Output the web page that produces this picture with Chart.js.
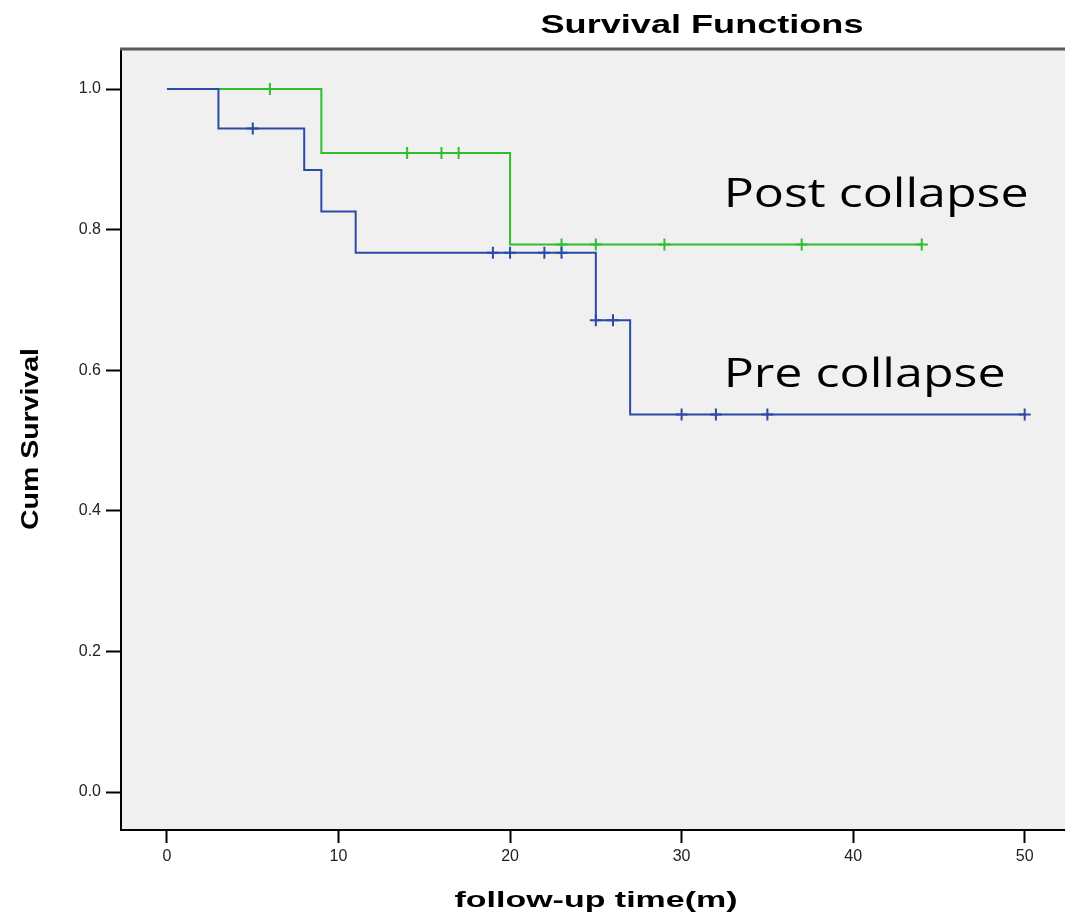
<!DOCTYPE html>
<html>
<head>
<meta charset="utf-8">
<script src="https://cdn.jsdelivr.net/npm/chart.js@4.4.1/dist/chart.umd.min.js"></script>
<style>
  html, body { margin: 0; padding: 0; background: #ffffff; overflow: hidden; }
  #wrap { width: 1065px; height: 919px; position: relative; }
  #km { display: block; }
</style>
</head>
<body>
<div id="wrap"><canvas id="km" width="1065" height="919"></canvas></div>
<script>
// Kaplan–Meier estimates: event times (months) and the survival after each step
const postTimes = [0, 9, 20, 44];
const postSurv  = [1.0, 0.909, 0.779, 0.779];
const postCensorTimes = [6, 14, 16, 17, 23, 25, 29, 37, 44];
const postCensorSurv  = [1.0, 0.909, 0.909, 0.909, 0.779, 0.779, 0.779, 0.779, 0.779];

const preTimes = [0, 3, 8, 9, 11, 25, 27, 50];
const preSurv  = [1.0, 0.944, 0.885, 0.826, 0.767, 0.671, 0.537, 0.537];
const preCensorTimes = [5, 19, 20, 22, 23, 25, 26, 30, 32, 35, 50];
const preCensorSurv  = [0.944, 0.767, 0.767, 0.767, 0.767, 0.671, 0.671, 0.537, 0.537, 0.537, 0.537];

const groupNames = ['Post collapse', 'Pre collapse'];
const xTicks = [0, 10, 20, 30, 40, 50];
const yTicks = [0.0, 0.2, 0.4, 0.6, 0.8, 1.0];

const GREEN = '#30bd30';
const BLUE  = '#2b4aa6';

const toPoints = (xs, ys) => xs.map((x, i) => ({ x: x, y: ys[i] }));

// Text drawn with a horizontal stretch so that it spans a given width
function stretchedText(ctx, text, x, y, font, width, align, rotate) {
  ctx.save();
  ctx.font = font;
  const natural = ctx.measureText(text).width;
  const sx = width / natural;
  ctx.translate(x, y);
  if (rotate) ctx.rotate(rotate);
  ctx.scale(sx, 1);
  ctx.textAlign = align;
  ctx.textBaseline = 'alphabetic';
  ctx.fillStyle = '#000';
  ctx.fillText(text, 0, 0);
  ctx.restore();
}

const framePlugin = {
  id: 'frame',
  beforeDraw(chart) {
    const { ctx, chartArea: a } = chart;
    ctx.save();
    ctx.fillStyle = '#f0f0f0';
    ctx.fillRect(a.left, a.top, a.right - a.left, a.bottom - a.top);
    ctx.restore();
  },
  afterDraw(chart) {
    const { ctx, chartArea: a, scales } = chart;
    ctx.save();
    ctx.strokeStyle = '#5a5a5a';
    ctx.lineWidth = 3;
    ctx.beginPath();
    ctx.moveTo(a.left - 1, a.top);
    ctx.lineTo(a.right, a.top);
    ctx.stroke();
    ctx.restore();

    // chart title and axis titles
    stretchedText(ctx, 'Survival Functions', 702, 33, 'bold 25px "Liberation Sans", Arial, sans-serif', 323, 'center');
    stretchedText(ctx, 'follow-up time(m)', 596, 907, 'bold 22px "Liberation Sans", Arial, sans-serif', 283, 'center');
    stretchedText(ctx, 'Cum Survival', 38, 439, 'bold 24px "Liberation Sans", Arial, sans-serif', 182, 'center', -Math.PI / 2);

    // group labels placed in data coordinates
    const xs = scales.x, ys = scales.y;
    const labelFont = '40px "Open Sans", "Noto Sans", sans-serif';
    stretchedText(ctx, groupNames[0], xs.getPixelForValue(32.45), ys.getPixelForValue(0.832), labelFont, 305, 'left');
    stretchedText(ctx, groupNames[1], xs.getPixelForValue(32.45), ys.getPixelForValue(0.576), labelFont, 282, 'left');
  }
};

new Chart(document.getElementById('km'), {
  type: 'scatter',
  data: {
    datasets: [
      {
        label: groupNames[1],
        type: 'line',
        data: toPoints(preTimes, preSurv),
        stepped: 'before',
        borderColor: BLUE,
        borderWidth: 2,
        pointRadius: 0,
        fill: false
      },
      {
        label: groupNames[0],
        type: 'line',
        data: toPoints(postTimes, postSurv),
        stepped: 'before',
        borderColor: GREEN,
        borderWidth: 2,
        pointRadius: 0,
        fill: false
      },
      {
        label: groupNames[1] + ' censored',
        data: toPoints(preCensorTimes, preCensorSurv),
        showLine: false,
        pointStyle: 'cross',
        pointRadius: 6,
        borderColor: BLUE,
        backgroundColor: BLUE,
        pointBorderWidth: 2
      },
      {
        label: groupNames[0] + ' censored',
        data: toPoints(postCensorTimes, postCensorSurv),
        showLine: false,
        pointStyle: 'cross',
        pointRadius: 6,
        borderColor: GREEN,
        backgroundColor: GREEN,
        pointBorderWidth: 2
      }
    ]
  },
  options: {
    responsive: false,
    animation: false,
    devicePixelRatio: 1,
    layout: { autoPadding: false, padding: { top: 49, left: 0, right: 0, bottom: 0 } },
    plugins: {
      legend: { display: false },
      tooltip: { enabled: false },
      title: { display: false }
    },
    scales: {
      x: {
        type: 'linear',
        min: -2.68,
        max: 52.35,
        afterFit: (s) => { s.height = 89; s.paddingLeft = 0; s.paddingRight = 0; },
        afterBuildTicks: (s) => { s.ticks = xTicks.map(v => ({ value: v })); },
        ticks: {
          color: '#222',
          font: { family: '"Liberation Sans", Arial, sans-serif', size: 16 },
          padding: 4,
          callback: (v) => String(v)
        },
        grid: { drawOnChartArea: false, drawTicks: true, tickLength: 13, tickColor: '#000', tickWidth: 2 },
        border: { display: true, color: '#000', width: 2 }
      },
      y: {
        type: 'linear',
        min: -0.054,
        max: 1.057,
        afterFit: (s) => { s.width = 121; s.paddingTop = 0; s.paddingBottom = 0; },
        afterBuildTicks: (s) => { s.ticks = yTicks.map(v => ({ value: v })); },
        ticks: {
          color: '#222',
          font: { family: '"Liberation Sans", Arial, sans-serif', size: 16 },
          padding: 5,
          callback: (v) => Number(v).toFixed(1)
        },
        grid: { drawOnChartArea: false, drawTicks: true, tickLength: 15, tickColor: '#000', tickWidth: 2 },
        border: { display: true, color: '#000', width: 2 }
      }
    }
  },
  plugins: [framePlugin]
});
</script>
</body>
</html>
